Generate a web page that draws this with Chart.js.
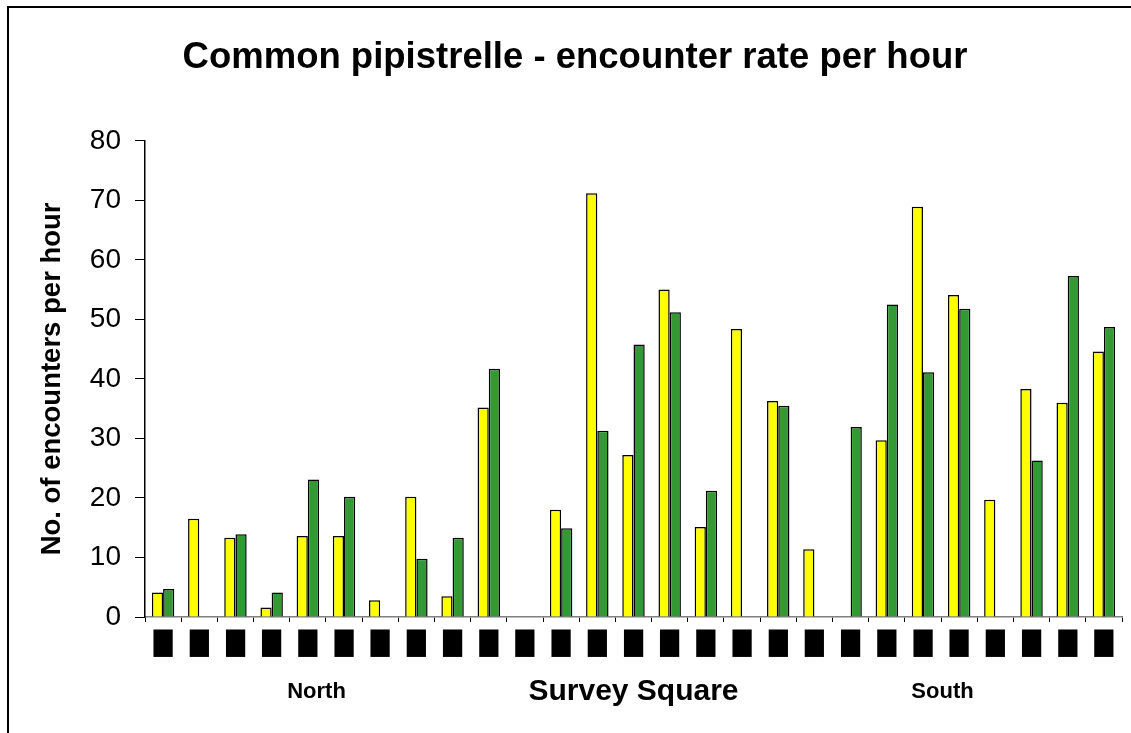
<!DOCTYPE html>
<html>
<head>
<meta charset="utf-8">
<script src="https://cdn.jsdelivr.net/npm/chart.js@4"></script>
<style>
  html, body { margin: 0; padding: 0; background: #fff; }
  #wrap { width: 1131px; height: 733px; }
</style>
</head>
<body>
<div id="wrap"><canvas id="pipChart" width="1131" height="733"></canvas></div>
<script>
// survey square names are blacked out in the original, so blocks stand in for them
const squares = ['▆','▆','▆','▆','▆','▆','▆','▆','▆','▆','▆','▆','▆','▆',
                 '▆','▆','▆','▆','▆','▆','▆','▆','▆','▆','▆','▆','▆'];
const yellowRates = [4.1, 16.5, 13.3, 1.6, 13.6, 13.6, 2.8, 20.2, 3.5, 35.2, null, 18.0, 71.2, 27.2,
                     55.0, 15.1, 48.4, 36.3, 11.4, null, 29.7, 68.9, 54.1, 19.7, 38.3, 36.0, 44.6];
const greenRates = [4.7, null, 13.9, 4.1, 23.1, 20.2, null, 9.8, 13.3, 41.7, null, 14.9, 31.3, 45.8,
                    51.2, 21.2, null, 35.5, null, 31.9, 52.5, 41.1, 51.8, null, 26.3, 57.3, 48.7];
const yTicks = [0, 10, 20, 30, 40, 50, 60, 70, 80];
const groupNames = ['North', 'South'];
const groupAt = [4.24, 21.54]; // position along the category axis

const FONT = 'Liberation Sans, Arial, sans-serif';

// outer frame and the North / South group labels
const extras = {
  id: 'extras',
  afterDraw(chart) {
    const ctx = chart.ctx;
    ctx.save();
    ctx.strokeStyle = '#000';
    ctx.lineWidth = 2;
    ctx.beginPath();
    ctx.moveTo(8, 733);
    ctx.lineTo(8, 7);
    ctx.lineTo(1131, 7);
    ctx.stroke();

    const x = chart.scales.x;
    ctx.fillStyle = '#000';
    ctx.font = 'bold 22px ' + FONT;
    ctx.textAlign = 'center';
    ctx.textBaseline = 'middle';
    groupNames.forEach(function (name, i) {
      ctx.fillText(name, x.getPixelForValue(groupAt[i]), 692);
    });
    ctx.restore();
  }
};

const ctx = document.getElementById('pipChart').getContext('2d');

new Chart(ctx, {
  type: 'bar',
  data: {
    labels: squares,
    datasets: [
      {
        label: 'Yellow',
        data: yellowRates,
        backgroundColor: '#FFFF00',
        borderColor: '#000',
        borderWidth: 1.5
      },
      {
        label: 'Green',
        data: greenRates,
        backgroundColor: '#339933',
        borderColor: '#000',
        borderWidth: 1.5
      }
    ]
  },
  plugins: [extras],
  options: {
    responsive: false,
    animation: false,
    layout: {
      padding: { left: 28, right: 9, top: 0, bottom: 0 }
    },
    datasets: {
      bar: {
        categoryPercentage: 0.62,
        barPercentage: 1.0
      }
    },
    plugins: {
      legend: { display: false },
      tooltip: { enabled: false },
      title: {
        display: true,
        text: 'Common pipistrelle - encounter rate per hour',
        color: '#000',
        font: { family: FONT, size: 36.5, weight: 'bold' },
        padding: { top: 36, bottom: 61 }
      }
    },
    scales: {
      x: {
        grid: {
          display: true,
          drawOnChartArea: false,
          drawTicks: true,
          tickLength: 5,
          color: '#000',
          offset: true
        },
        border: { color: '#808080', width: 1.5 },
        ticks: {
          color: '#000',
          font: { family: 'DejaVu Sans Mono', size: 31 },
          padding: 0,
          maxRotation: 0,
          autoSkip: false
        },
        title: {
          display: true,
          text: 'Survey Square',
          color: '#000',
          font: { family: FONT, size: 30, weight: 'bold' },
          padding: { top: 0, bottom: 23 }
        },
        afterFit(scale) { scale.height = 116; }
      },
      y: {
        min: 0,
        max: 80,
        afterBuildTicks(scale) {
          scale.ticks = yTicks.map(function (v) { return { value: v }; });
        },
        grid: {
          display: true,
          drawOnChartArea: false,
          drawTicks: true,
          tickLength: 10,
          color: '#000'
        },
        border: { color: '#000', width: 1.5 },
        ticks: {
          color: '#000',
          font: { family: FONT, size: 28 },
          padding: 14
        },
        title: {
          display: true,
          text: 'No. of encounters per hour',
          color: '#000',
          font: { family: FONT, size: 27.5, weight: 'bold' },
          padding: { top: 8, bottom: 0 }
        },
        afterFit(scale) { scale.width = 117; }
      }
    }
  }
});
</script>
</body>
</html>
